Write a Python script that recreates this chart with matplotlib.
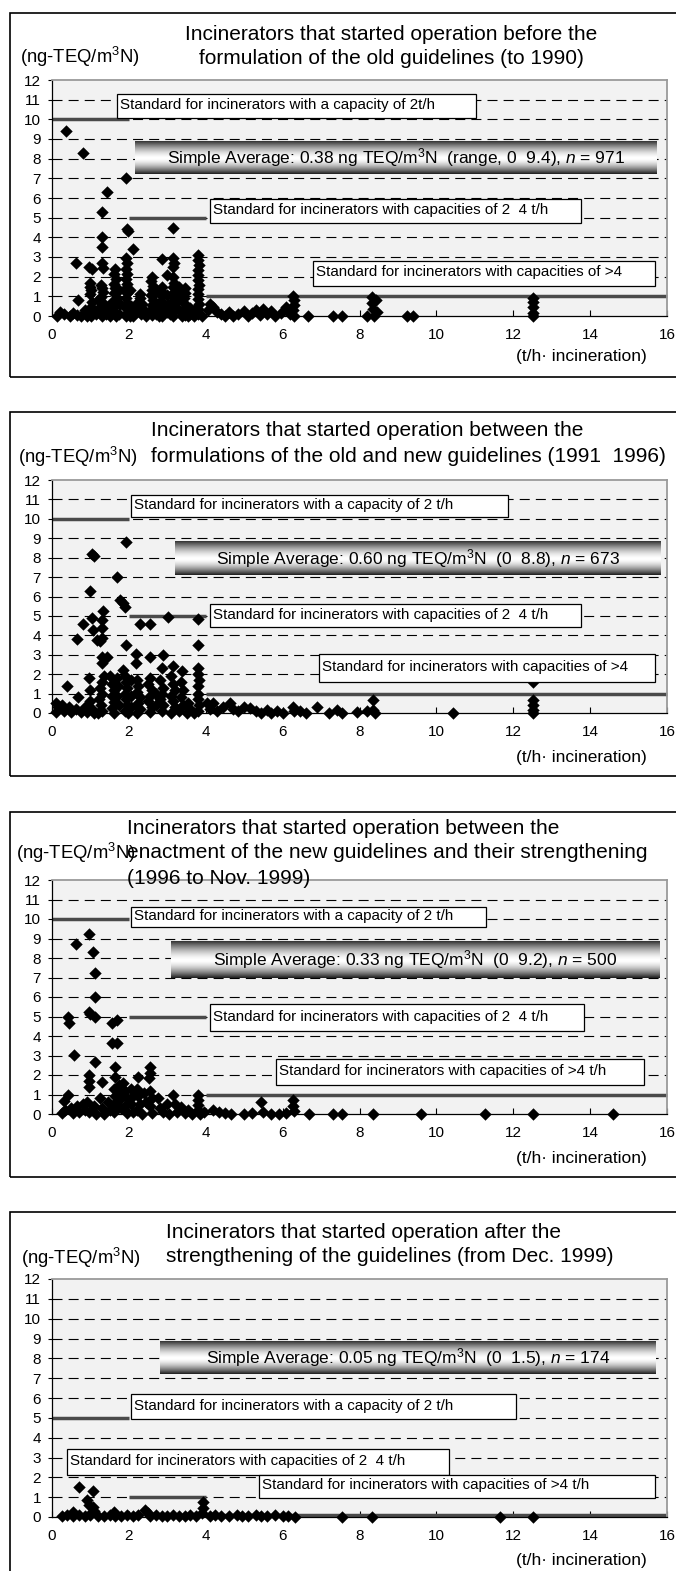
"""Dioxin emission concentrations vs. incinerator capacity, four start-up periods."""
import matplotlib

matplotlib.use("Agg")
import matplotlib.pyplot as plt  # noqa: E402
import numpy as np  # noqa: E402
from matplotlib.patches import Rectangle  # noqa: E402

plt.rcParams["font.family"] = ["Liberation Sans", "DejaVu Sans"]
plt.rcParams["mathtext.fontset"] = "custom"
plt.rcParams["mathtext.rm"] = "Liberation Sans"
plt.rcParams["mathtext.it"] = "Liberation Sans:italic"

# ---- data (capacity t/h, concentration ng-TEQ/m3N) ----
p1_pts = [
    (0.12, 0.0), (0.36, 9.4), (0.47, 0.0), (0.62, 2.7), (0.68, 0.8), (0.81, 8.3), (0.3, 0.1), (0.55, 0.15),
    (0.75, 0.0), (0.85, 0.3), (0.9, 0.0), (0.2, 0.2), (0.65, 0.05),
    (0.97, 2.5), (1.05, 2.4), (1.0, 1.7), (0.98, 1.5), (1.02, 1.3), (1.0, 1.1), (1.05, 0.7), (1.0, 0.4),
    (0.98, 0.2), (1.02, 0.0), (1.1, 0.3), (1.15, 0.1),
    (1.42, 6.3), (1.29, 5.3), (1.29, 4.0), (1.29, 3.5), (1.29, 2.7), (1.32, 2.45), (1.27, 1.6), (1.3, 1.4),
    (1.33, 1.2), (1.28, 0.95), (1.3, 0.7), (1.25, 0.45), (1.3, 0.2), (1.3, 0.0), (1.2, 0.8), (1.38, 0.5), (1.4, 0.1),
    (1.65, 2.4), (1.62, 2.15), (1.66, 1.9), (1.6, 1.65), (1.64, 1.4), (1.6, 1.15), (1.68, 0.9), (1.55, 0.7),
    (1.62, 0.45), (1.6, 0.2), (1.66, 0.0), (1.5, 0.3), (1.75, 1.3), (1.78, 0.6), (1.75, 0.1), (1.5, 0.0),
    (1.93, 7.0), (1.95, 4.4), (1.98, 4.3), (2.1, 3.4), (1.93, 2.95), (1.95, 2.7), (1.92, 2.4), (1.96, 2.15),
    (1.93, 1.9), (1.95, 1.65), (1.92, 1.4), (1.96, 1.15), (1.93, 0.9), (1.95, 0.65), (1.92, 0.4), (1.95, 0.15),
    (1.93, 0.0), (2.03, 1.3), (2.05, 0.5), (2.02, 0.0),
    (2.3, 1.1), (2.28, 0.9), (2.25, 0.7), (2.3, 0.45), (2.2, 0.25), (2.32, 0.1), (2.15, 0.5), (2.12, 0.0),
    (2.4, 0.3), (2.45, 0.0), (2.35, 0.6), (2.5, 0.15),
    (2.6, 2.0), (2.58, 1.8), (2.62, 1.55), (2.6, 1.3), (2.57, 1.05), (2.62, 0.8), (2.6, 0.55), (2.58, 0.3),
    (2.6, 0.05), (2.7, 1.2), (2.72, 0.45), (2.7, 0.1), (2.78, 0.0),
    (2.85, 2.9), (2.87, 1.5), (2.84, 1.25), (2.86, 1.0), (2.83, 0.75), (2.88, 0.5), (2.85, 0.25), (2.85, 0.0),
    (3.0, 2.1), (3.0, 1.05), (3.02, 0.6), (2.98, 0.2), (3.08, 0.1),
    (3.16, 4.5), (3.15, 2.95), (3.18, 2.7), (3.14, 2.5), (3.16, 2.0), (3.18, 1.7), (3.15, 1.45), (3.17, 1.2),
    (3.14, 0.95), (3.16, 0.7), (3.18, 0.45), (3.15, 0.2), (3.16, 0.0), (3.3, 1.5), (3.32, 1.1), (3.28, 0.8),
    (3.3, 0.3), (3.38, 0.0),
    (3.45, 1.4), (3.47, 1.15), (3.43, 0.9), (3.46, 0.6), (3.44, 0.35), (3.45, 0.05), (3.6, 0.4), (3.6, 0.1),
    (3.55, 0.0),
    (3.81, 3.1), (3.8, 2.85), (3.82, 2.6), (3.8, 2.35), (3.81, 2.1), (3.8, 1.85), (3.82, 1.6), (3.8, 1.35),
    (3.81, 1.1), (3.8, 0.85), (3.82, 0.6), (3.8, 0.35), (3.81, 0.1), (3.7, 0.3), (3.7, 0.0), (3.9, 0.0),
    (4.05, 0.3), (4.1, 0.6), (4.2, 0.45), (4.3, 0.2), (4.4, 0.1), (4.5, 0.0), (4.6, 0.2), (4.7, 0.0),
    (4.85, 0.1), (5.0, 0.25), (5.1, 0.0), (5.2, 0.15), (5.3, 0.3), (5.4, 0.05), (5.5, 0.35), (5.6, 0.1),
    (5.7, 0.25), (5.8, 0.0), (5.95, 0.15), (6.1, 0.45), (6.2, 0.1), (6.28, 1.0), (6.3, 0.8), (6.3, 0.55),
    (6.28, 0.3), (6.3, 0.0), (6.67, 0.0), (7.32, 0.0), (7.54, 0.0), (8.2, 0.0), (8.32, 0.95), (8.32, 0.65),
    (8.35, 0.35), (8.38, 0.0), (8.42, 0.8), (8.45, 0.2), (9.23, 0.0), (9.4, 0.0),
    (12.52, 0.9), (12.52, 0.7), (12.52, 0.45), (12.52, 0.15), (12.52, 0.0),
]

p2_pts = [
    (0.1, 0.5), (0.15, 0.3), (0.1, 0.05), (0.25, 0.4), (0.3, 0.1), (0.38, 1.4), (0.45, 0.3), (0.5, 0.05),
    (0.62, 0.2), (0.68, 0.8), (0.64, 3.8), (0.75, 0.05), (0.81, 4.6), (0.85, 0.3), (0.9, 0.05),
    (0.95, 1.8), (1.0, 1.2), (0.99, 6.3), (1.03, 4.9), (1.05, 8.2), (1.1, 8.1), (1.07, 4.3), (1.16, 3.75),
    (1.0, 0.6), (1.05, 0.2), (1.1, 0.0),
    (1.29, 4.8), (1.29, 4.4), (1.32, 5.25), (1.29, 3.85), (1.25, 3.7), (1.29, 2.9), (1.42, 2.9), (1.29, 2.55),
    (1.35, 1.9), (1.3, 1.6), (1.25, 1.3), (1.3, 1.0), (1.22, 0.7), (1.28, 0.4), (1.3, 0.1), (1.2, 0.0),
    (1.5, 1.9), (1.55, 1.5), (1.6, 1.2), (1.55, 0.9), (1.6, 0.55), (1.55, 0.25), (1.6, 0.0), (1.68, 7.0),
    (1.7, 1.8), (1.72, 1.4), (1.7, 0.9), (1.75, 0.4),
    (1.77, 5.82), (1.85, 5.65), (1.9, 5.47), (1.93, 8.8), (1.93, 3.5), (1.85, 2.2), (1.9, 1.9), (1.92, 1.6),
    (1.95, 1.3), (1.9, 1.0), (1.93, 0.7), (1.95, 0.4), (1.9, 0.1), (1.98, 0.0), (2.05, 1.7), (2.05, 0.9),
    (2.05, 0.3),
    (2.19, 3.05), (2.19, 2.6), (2.29, 4.58), (2.2, 1.7), (2.25, 1.4), (2.2, 1.1), (2.3, 0.8), (2.25, 0.5),
    (2.3, 0.2), (2.2, 0.0),
    (2.55, 4.58), (2.55, 2.9), (2.55, 1.8), (2.5, 1.5), (2.6, 1.2), (2.55, 0.9), (2.5, 0.6), (2.6, 0.3),
    (2.55, 0.05), (2.7, 1.0), (2.7, 0.4),
    (2.85, 2.3), (2.88, 2.97), (2.8, 1.7), (2.9, 1.3), (2.85, 1.0), (2.8, 0.7), (2.9, 0.4), (2.85, 0.1),
    (3.03, 4.96), (3.16, 2.4), (3.1, 1.9), (3.15, 1.5), (3.2, 1.2), (3.1, 0.9), (3.15, 0.6), (3.2, 0.3),
    (3.1, 0.0), (3.37, 2.15), (3.35, 1.6), (3.4, 1.2), (3.35, 0.8), (3.4, 0.4), (3.3, 0.1), (3.5, 0.0),
    (3.55, 0.5), (3.6, 0.2),
    (3.81, 4.82), (3.81, 3.48), (3.81, 2.3), (3.8, 2.0), (3.82, 1.7), (3.8, 1.4), (3.81, 1.0), (3.8, 0.7),
    (3.82, 0.4), (3.8, 0.1), (3.7, 0.0),
    (4.02, 0.5), (4.1, 0.2), (4.2, 0.5), (4.3, 0.1), (4.45, 0.3), (4.63, 0.5), (4.7, 0.2), (4.85, 0.1),
    (5.0, 0.3), (5.15, 0.25), (5.3, 0.1), (5.45, 0.0), (5.6, 0.15), (5.7, 0.0), (5.85, 0.1), (6.0, 0.0),
    (6.28, 0.3), (6.3, 0.1), (6.45, 0.1), (6.6, 0.0), (6.89, 0.33), (7.2, 0.0), (7.41, 0.15), (7.54, 0.0),
    (7.93, 0.05), (8.19, 0.1), (8.36, 0.67), (8.36, 0.15), (8.4, 0.0), (10.44, 0.0),
    (12.52, 1.61), (12.52, 0.67), (12.52, 0.4), (12.52, 0.15), (12.52, 0.0),
]

p3_pts = [
    (0.25, 0.05), (0.3, 0.66), (0.35, 0.2), (0.42, 0.97), (0.42, 4.99), (0.45, 4.65), (0.5, 0.3), (0.56, 3.02),
    (0.55, 0.05), (0.62, 8.7), (0.65, 0.4), (0.7, 0.1), (0.8, 0.5), (0.85, 0.2), (0.95, 9.23), (0.97, 5.25),
    (1.0, 5.15), (0.95, 2.0), (0.97, 1.7), (0.95, 1.4), (0.9, 0.6), (0.95, 0.1), (1.06, 8.29), (1.12, 7.21),
    (1.12, 5.98), (1.12, 5.0), (1.12, 2.67), (1.1, 0.4), (1.15, 0.0),
    (1.29, 1.66), (1.25, 0.8), (1.3, 0.3), (1.35, 0.0), (1.45, 0.6), (1.5, 0.2),
    (1.55, 4.65), (1.68, 4.82), (1.55, 3.62), (1.68, 3.62), (1.64, 2.43), (1.64, 1.9), (1.6, 1.3), (1.65, 0.9),
    (1.6, 0.5), (1.62, 0.1), (1.75, 1.5), (1.8, 1.1), (1.75, 0.7), (1.8, 0.3), (1.85, 1.6), (1.9, 1.2),
    (1.95, 0.8), (1.9, 0.4), (1.95, 0.05),
    (2.05, 1.3), (2.1, 0.9), (2.05, 0.5), (2.1, 0.1), (2.25, 1.91), (2.2, 1.3), (2.25, 0.9), (2.3, 0.5),
    (2.2, 0.2), (2.35, 0.0), (2.4, 1.1), (2.45, 0.6),
    (2.55, 2.43), (2.55, 2.1), (2.53, 1.85), (2.55, 1.2), (2.6, 0.8), (2.55, 0.4), (2.6, 0.05), (2.75, 0.8),
    (2.8, 0.3), (2.9, 0.1), (3.0, 0.5), (3.05, 0.0),
    (3.16, 0.97), (3.2, 0.5), (3.25, 0.1), (3.35, 0.35), (3.45, 0.05), (3.55, 0.2), (3.65, 0.0),
    (3.81, 0.97), (3.81, 0.7), (3.81, 0.45), (3.81, 0.2), (3.85, 0.0), (3.95, 0.1),
    (4.2, 0.2), (4.35, 0.1), (4.5, 0.05), (4.65, 0.0), (5.0, 0.0), (5.2, 0.05), (5.43, 0.6), (5.5, 0.1),
    (5.7, 0.0), (5.9, 0.0), (6.1, 0.05), (6.27, 0.7), (6.27, 0.4), (6.3, 0.15), (6.69, 0.0), (7.31, 0.0),
    (7.54, 0.0), (8.35, 0.0), (9.6, 0.0), (11.26, 0.0), (12.52, 0.0), (14.6, 0.0),
]

p4_pts = [
    (0.25, 0.05), (0.4, 0.1), (0.55, 0.05), (0.7, 0.1), (0.85, 0.05), (1.0, 0.1), (1.2, 0.05), (1.35, 0.05),
    (1.5, 0.1), (1.65, 0.05), (1.8, 0.05), (1.95, 0.1), (2.1, 0.05), (2.25, 0.1), (2.55, 0.05), (2.7, 0.1),
    (2.85, 0.05), (3.0, 0.05), (3.15, 0.1), (3.3, 0.05), (3.45, 0.05), (3.6, 0.1), (3.75, 0.05), (4.1, 0.05),
    (4.25, 0.1), (4.4, 0.05), (4.6, 0.05), (4.8, 0.1), (4.95, 0.05), (5.1, 0.05), (5.3, 0.1), (5.45, 0.05),
    (5.6, 0.05), (5.8, 0.1), (6.0, 0.05), (6.15, 0.05), (6.33, 0.0),
    (0.71, 1.5), (1.07, 1.33), (0.9, 0.86), (0.95, 0.6), (1.07, 0.5), (1.1, 0.3), (0.55, 0.25), (3.94, 0.77),
    (3.94, 0.45), (3.9, 0.2), (2.42, 0.35), (2.5, 0.2), (1.6, 0.25), (1.0, 0.15),
    (7.54, 0.0), (8.32, 0.0), (11.65, 0.0), (12.52, 0.0),
]

# emission standards (ng-TEQ/m3N) for capacity bands <2, 2-4, >4 t/h
std_x0 = [0, 2, 4]
std_x1 = [2, 4, 16]
std_old = [10, 5, 1]
std_new = [5, 1, 0.1]

titles = [
    ["Incinerators that started operation before the", "formulation of the old guidelines (to 1990)"],
    ["Incinerators that started operation between the",
     "formulations of the old and new guidelines (1991  1996)"],
    ["Incinerators that started operation between the",
     "enactment of the new guidelines and their strengthening", "(1996 to Nov. 1999)"],
    ["Incinerators that started operation after the", "strengthening of the guidelines (from Dec. 1999)"],
]
averages = [
    "Simple Average: 0.38 ng TEQ/m$^3$N  (range, 0  9.4), $n$ = 971",
    "Simple Average: 0.60 ng TEQ/m$^3$N  (0  8.8), $n$ = 673",
    "Simple Average: 0.33 ng TEQ/m$^3$N  (0  9.2), $n$ = 500",
    "Simple Average: 0.05 ng TEQ/m$^3$N  (0  1.5), $n$ = 174",
]
std_labels = [
    ["Standard for incinerators with a capacity of 2t/h",
     "Standard for incinerators with capacities of 2  4 t/h",
     "Standard for incinerators with capacities of >4"],
    ["Standard for incinerators with a capacity of 2 t/h",
     "Standard for incinerators with capacities of 2  4 t/h",
     "Standard for incinerators with capacities of >4"],
    ["Standard for incinerators with a capacity of 2 t/h",
     "Standard for incinerators with capacities of 2  4 t/h",
     "Standard for incinerators with capacities of >4 t/h"],
    ["Standard for incinerators with a capacity of 2 t/h",
     "Standard for incinerators with capacities of 2  4 t/h",
     "Standard for incinerators with capacities of >4 t/h"],
]

# ---- layout (pixels, top-left origin) ----
W, H = 676, 1571
ax_top = [80, 480, 880, 1279]
ax_bot = [316, 713, 1114, 1517]
frame_top = [13, 412, 812, 1212]
frame_bot = [377, 776, 1177, 1580]
title_x = [391, 151, 127, 166]
title_ha = ["center", "left", "left", "left"]
title_y = [[35, 58], [430, 456], [829, 853, 878], [1232, 1256]]
ylab_pos = [(20, 57), (18, 457), (16, 853), (21, 1258)]
xlab_y = [357, 757, 1158, 1560]
# annotation boxes in data units: x0, x1, y0, y1
banner_box = [(2.16, 15.74, 7.22, 8.85), (3.2, 15.82, 7.11, 8.81),
              (3.1, 15.8, 6.97, 8.82), (2.81, 15.71, 7.21, 8.87)]
label_boxes = [
    [(1.69, 11.03, 10.07, 11.29), (4.11, 13.76, 4.73, 5.95), (6.79, 15.69, 1.53, 2.80)],
    [(2.05, 11.86, 10.09, 11.23), (4.11, 13.76, 4.43, 5.61), (6.95, 15.69, 1.60, 3.04)],
    [(2.05, 11.29, 9.59, 10.62), (4.11, 13.84, 4.26, 5.64), (5.83, 15.40, 1.49, 2.82)],
    [(2.05, 12.07, 4.94, 6.20), (0.39, 10.33, 2.12, 3.43), (5.39, 15.69, 0.96, 2.12)],
]


def fx(px):
    return px / W


def fy(py):
    return 1 - py / H


fig = plt.figure(figsize=(W / 100, H / 100), dpi=100)

# vertical metallic gradient for the "Simple Average" banners
t = np.linspace(0, 1, 80)
shade = 1 - np.clip(np.abs(t - 0.52) / 0.52, 0, 1) ** 1.6
shade = np.where(t < 0.52, 0.2 + 0.8 * shade, shade)

all_pts = [p1_pts, p2_pts, p3_pts, p4_pts]
all_std = [std_old, std_old, std_old, std_new]

for i in range(4):
    fig.patches.append(Rectangle((fx(10), fy(frame_bot[i])), fx(W),
                                 (frame_bot[i] - frame_top[i]) / H, transform=fig.transFigure,
                                 fill=False, ec="black", lw=1.2))
    ax = fig.add_axes([fx(52), fy(ax_bot[i]), fx(667 - 52), (ax_bot[i] - ax_top[i]) / H])
    ax.set_facecolor("#f2f2f2")

    # standard lines
    for x0, x1, y in zip(std_x0, std_x1, all_std[i]):
        ax.plot([x0, x1], [y, y], color="#4a4a4a", lw=2.5, solid_capstyle="butt", zorder=2.5, clip_on=False)

    xs = [p[0] for p in all_pts[i]]
    ys = [p[1] for p in all_pts[i]]
    ax.scatter(xs, ys, marker="D", s=40, c="black", linewidths=0, zorder=3, clip_on=False)

    # banner
    bx0, bx1, by0, by1 = banner_box[i]
    ax.imshow(shade[:, None], extent=[bx0, bx1, by0, by1], aspect="auto", cmap="gray",
              vmin=0, vmax=1, interpolation="bilinear", zorder=4)
    ax.text((bx0 + bx1) / 2, (by0 + by1) / 2, averages[i], ha="center", va="center",
            fontsize=12.5, zorder=5)

    # standard label boxes
    for (x0, x1, y0, y1), lab in zip(label_boxes[i], std_labels[i]):
        ax.add_patch(Rectangle((x0, y0), x1 - x0, y1 - y0, fc="white", ec="black", lw=0.9, zorder=4))
        ax.text(x0 + 0.08, (y0 + y1) / 2 + 0.05, lab, ha="left", va="center", fontsize=10.9, zorder=5)

    ax.set_xlim(0, 16)
    ax.set_ylim(0, 12)
    ax.set_xticks(range(0, 17, 2))
    ax.set_yticks(range(0, 13))
    ax.tick_params(axis="y", direction="out", length=3, width=0.8, pad=5, labelsize=11)
    ax.tick_params(axis="x", direction="in", length=4, width=0.8, pad=8.5, labelsize=11)
    ax.yaxis.grid(True, color="black", linestyle=(0, (9, 5.5)), lw=0.8)
    gl = ax.get_ygridlines()
    gl[0].set_visible(False)
    gl[-1].set_visible(False)
    ax.set_axisbelow(True)
    ax.spines["left"].set_color("black")
    ax.spines["left"].set_linewidth(0.9)
    ax.spines["bottom"].set_color("black")
    ax.spines["bottom"].set_linewidth(0.9)
    for side in ("top", "right"):
        ax.spines[side].set_color("#9a9a9a")
        ax.spines[side].set_linewidth(1.3)

    for line, yy in zip(titles[i], title_y[i]):
        fig.text(fx(title_x[i]), fy(yy), line, ha=title_ha[i], va="center", fontsize=15, zorder=6)
    fig.text(fx(ylab_pos[i][0]), fy(ylab_pos[i][1]), "(ng-TEQ/m$^3$N)", ha="left", va="center",
             fontsize=13.3, zorder=6)
    fig.text(fx(647), fy(xlab_y[i]), "(t/h\u00b7 incineration)", ha="right", va="center", fontsize=12.5)

fig.savefig("out.png", dpi=100)
